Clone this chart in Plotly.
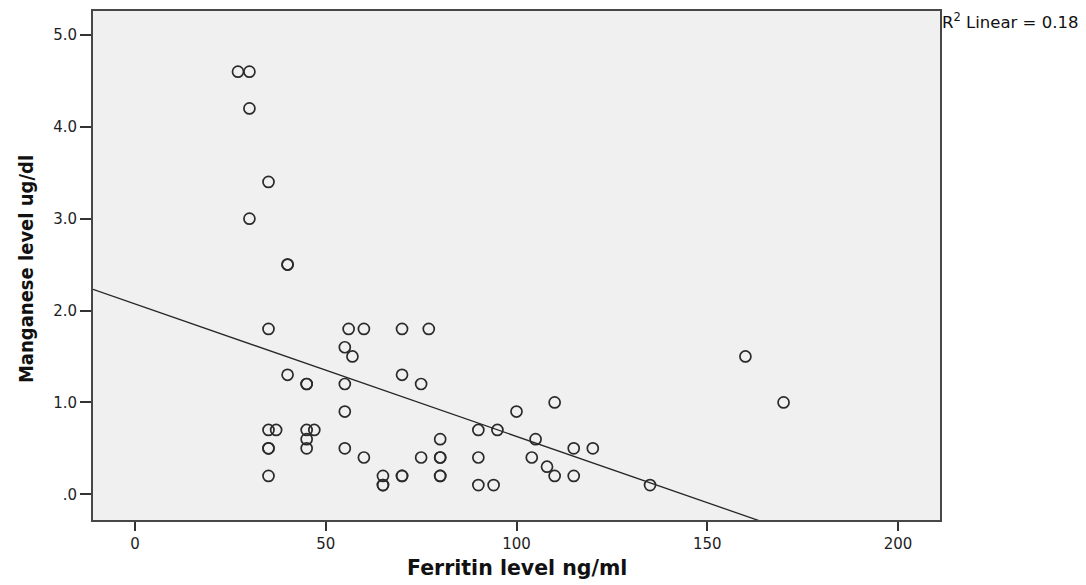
import numpy as np
import plotly.graph_objects as go

# Ferritin (ng/ml) and Manganese (ug/dl) values
ferritin = [27, 30, 30, 35, 30, 40, 40,
            35, 56, 60, 70, 77,
            55, 57, 160,
            40, 70,
            45, 45, 55, 75,
            110, 170,
            55, 100,
            35, 37, 45, 47, 90, 95,
            45, 80, 105,
            35, 35, 45, 55, 115, 120,
            60, 75, 80, 80, 90, 104,
            108,
            35, 65, 70, 70, 80, 80, 110, 115,
            65, 65, 90, 94, 135]
manganese = [4.6, 4.6, 4.2, 3.4, 3.0, 2.5, 2.5,
             1.8, 1.8, 1.8, 1.8, 1.8,
             1.6, 1.5, 1.5,
             1.3, 1.3,
             1.2, 1.2, 1.2, 1.2,
             1.0, 1.0,
             0.9, 0.9,
             0.7, 0.7, 0.7, 0.7, 0.7, 0.7,
             0.6, 0.6, 0.6,
             0.5, 0.5, 0.5, 0.5, 0.5, 0.5,
             0.4, 0.4, 0.4, 0.4, 0.4, 0.4,
             0.3,
             0.2, 0.2, 0.2, 0.2, 0.2, 0.2, 0.2, 0.2,
             0.1, 0.1, 0.1, 0.1, 0.1]

x_ticks = [0, 50, 100, 150, 200]
y_ticks = [0, 1, 2, 3, 4, 5]
y_tick_labels = [".0", "1.0", "2.0", "3.0", "4.0", "5.0"]
x_range = [-11.0, 211.0]
y_range = [-0.28, 5.26]
r2_text = "R<sup>2</sup> Linear = 0.18"
x_title = "Ferritin level ng/ml"
y_title = "Manganese level ug/dl"

slope, intercept = np.polyfit(ferritin, manganese, 1)
line_x = np.linspace(x_range[0], x_range[1], 200)
line_y = intercept + slope * line_x

fig = go.Figure()
fig.add_trace(go.Scatter(
    x=line_x, y=line_y, mode="lines",
    line=dict(color="#262626", width=1.3), hoverinfo="skip", showlegend=False))
fig.add_trace(go.Scatter(
    x=ferritin, y=manganese, mode="markers",
    marker=dict(symbol="circle-open", size=11, color="#2a2a2a", line=dict(width=1.7)),
    showlegend=False))

tick_font = dict(family="DejaVu Sans, Liberation Sans, Arial", size=15, color="#1e1e1e")
fig.update_layout(
    width=1070, height=577,
    margin=dict(l=85, r=138, t=1, b=65),
    paper_bgcolor="white", plot_bgcolor="#f0f0f0",
    xaxis=dict(range=x_range, tickvals=x_ticks, showgrid=False, zeroline=False,
               showline=True, linecolor="#474747", linewidth=1.8, mirror=True,
               ticks="outside", ticklen=9, tickwidth=1.6, tickcolor="#333",
               tickfont=tick_font),
    yaxis=dict(range=y_range, tickvals=y_ticks, ticktext=y_tick_labels, showgrid=False,
               zeroline=False, showline=True, linecolor="#474747", linewidth=1.8, mirror=True,
               ticks="outside", ticklen=11, tickwidth=1.6, tickcolor="#333",
               tickfont=tick_font),
    annotations=[
        dict(text=r2_text, xref="paper", yref="paper", x=1.0, y=1.0, xshift=0, yshift=3,
             xanchor="left", yanchor="top", showarrow=False,
             font=dict(family="DejaVu Sans, Liberation Sans, Arial", size=16.5, color="#111")),
        dict(text="<b>" + x_title + "</b>", xref="paper", yref="paper", x=0.5, y=0,
             yshift=-48, xanchor="center", yanchor="middle", showarrow=False,
             font=dict(family="DejaVu Sans, Liberation Sans, Arial", size=20.5, color="#111")),
        dict(text="<b>" + y_title + "</b>", xref="paper", yref="paper", x=0, y=0.493,
             xshift=-67, xanchor="center", yanchor="middle", textangle=-90, showarrow=False,
             font=dict(family="DejaVu Sans Condensed, Liberation Sans, Arial", size=20, color="#111")),
    ],
)

fig.write_html("out.html")
